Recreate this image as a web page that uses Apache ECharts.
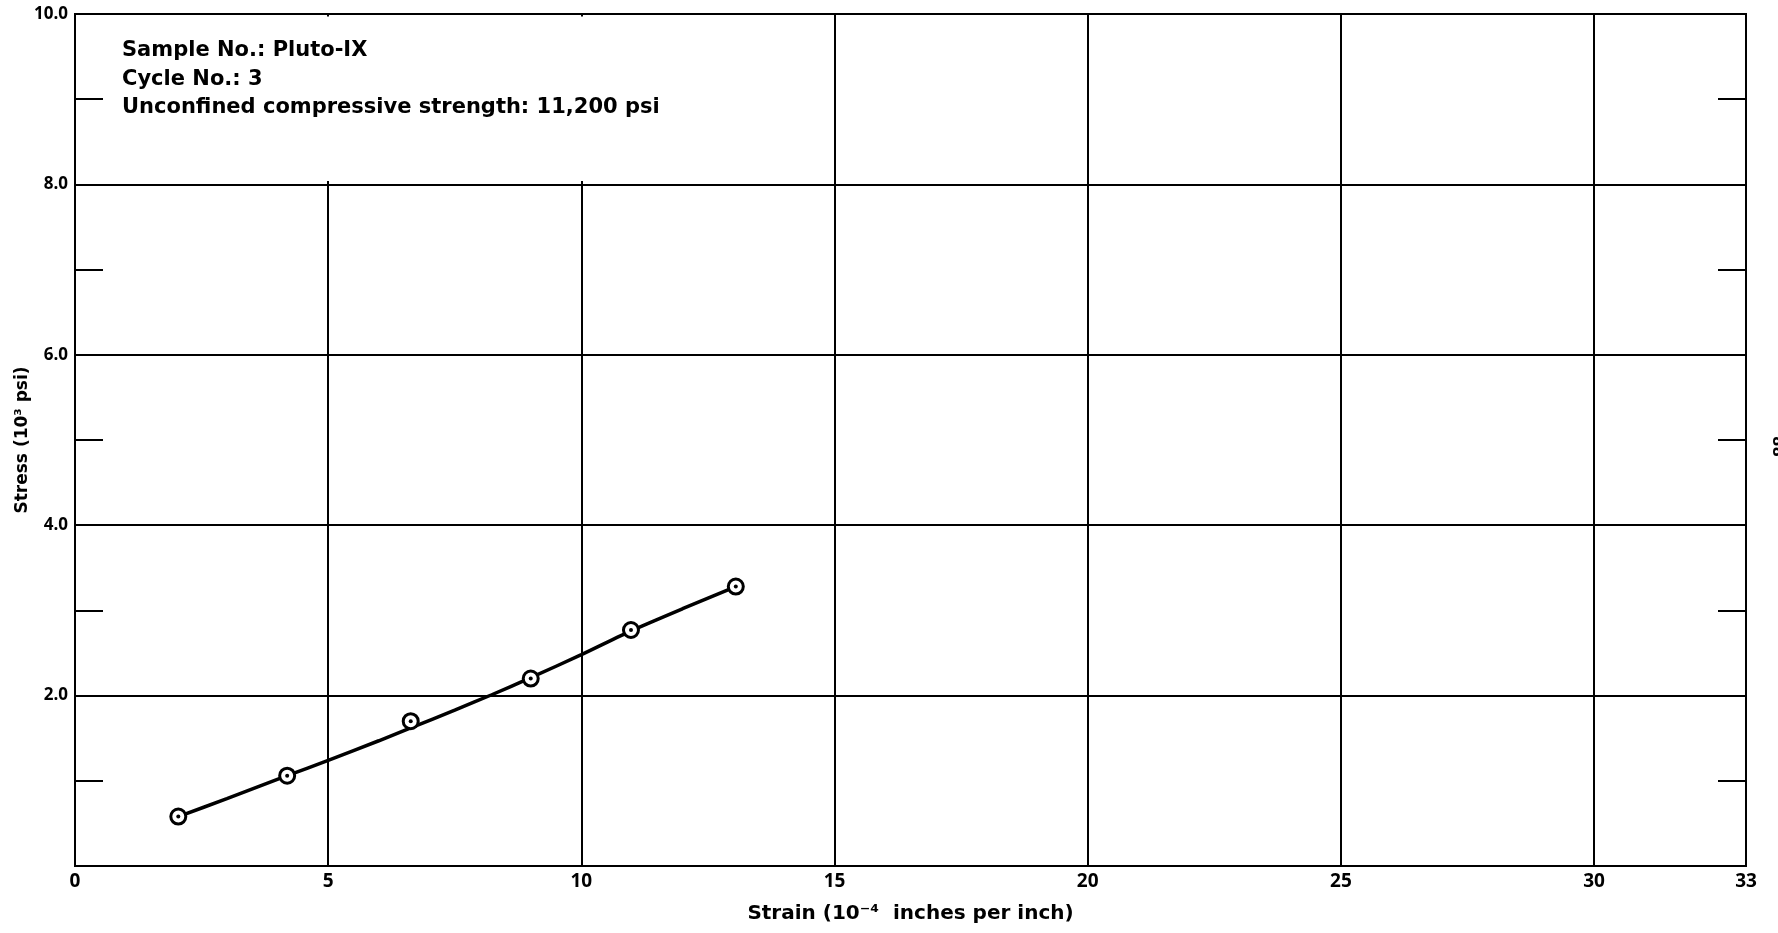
<!DOCTYPE html>
<html>
<head>
<meta charset="utf-8">
<script src="https://cdn.jsdelivr.net/npm/echarts@6/dist/echarts.min.js"></script>
<style>
html,body{margin:0;padding:0;background:#fff;}
#chart{width:1778px;height:933px;}
</style>
</head>
<body>
<div id="chart"></div>
<script>
// ---- data ----
const obsStrain = [2.04, 4.19, 6.63, 9.00, 10.98, 13.05];
const obsStress = [0.58, 1.06, 1.70, 2.20, 2.77, 3.28];
const curveStrain = [2.04, 3.0, 4.19, 5.0, 6.0, 6.63, 7.5, 8.23, 9.0, 10.0, 10.98, 12.0, 13.05];
const curveStress = [0.58, 0.79, 1.06, 1.24, 1.47, 1.62, 1.83, 2.01, 2.21, 2.48, 2.76, 3.02, 3.28];
const xTickLabels = ['0', '5', '10', '15', '20', '25', '30', '33'];
const yTickLabels = ['', '2.0', '4.0', '6.0', '8.0', '10.0'];
const notes = ['Sample No.: Pluto-IX', 'Cycle No.: 3', 'Unconfined compressive strength: 11,200 psi'];
const xName = 'Strain (10\u207B\u2074  inches per inch)';
const yName = 'Stress (10\u00B3 psi)';
const pageNo = '88';

const FONT = '"DejaVu Sans", "Liberation Sans", sans-serif';
const TICKFONT = '"Open Sans", "DejaVu Sans", sans-serif';
const obs = obsStrain.map((x, i) => [x, obsStress[i]]);
const curve = curveStrain.map((x, i) => [x, curveStress[i]]);

const chart = echarts.init(document.getElementById('chart'), null, {renderer: 'canvas'});
const black = '#000';

const yCommon = {
  type: 'value', min: 0, max: 10, interval: 2,
  axisLine: {show: true, lineStyle: {color: black, width: 2}},
  axisTick: {show: true, inside: true, length: 28, lineStyle: {color: black, width: 2}},
  minorTick: {show: true, splitNumber: 2, length: 28, lineStyle: {color: black, width: 2}},
  splitLine: {show: true, lineStyle: {color: black, width: 2}},
  minorSplitLine: {show: false}
};

chart.setOption({
  backgroundColor: '#fff',
  animation: false,
  grid: {left: 75, right: 32, top: 14, bottom: 67, containLabel: false, outerBoundsMode: 'none',
    show: true, borderColor: black, borderWidth: 2, backgroundColor: 'transparent'},
  xAxis: {
    type: 'value', min: 0, max: 33, interval: 5,
    name: xName, nameLocation: 'middle', nameGap: 38, nameMoveOverlap: false,
    nameTextStyle: {fontFamily: FONT, fontSize: 20, fontWeight: 'bold', color: black},
    axisLine: {show: true, lineStyle: {color: black, width: 2}},
    axisTick: {show: false},
    splitLine: {show: true, lineStyle: {color: black, width: 2}},
    axisLabel: {
      fontFamily: TICKFONT, fontSize: 19, fontWeight: 'bold', color: black, margin: 6,
      showMaxLabel: true, showMinLabel: true,
      formatter: v => { const s = String(Math.round(v)); return xTickLabels.indexOf(s) >= 0 ? s : ''; }
    }
  },
  yAxis: [
    Object.assign({}, yCommon, {
      position: 'left',
      name: yName, nameLocation: 'middle', nameGap: 44, nameMoveOverlap: false,
      nameTextStyle: {fontFamily: FONT, fontSize: 17, fontWeight: 'bold', color: black},
      axisLabel: {fontFamily: TICKFONT, fontSize: 17, fontWeight: 'bold', color: black, margin: 7,
        formatter: v => yTickLabels[Math.round(v / 2)] || ''}
    }),
    Object.assign({}, yCommon, {
      position: 'right',
      splitLine: {show: false},
      axisLabel: {show: false}
    })
  ],
  graphic: [
    ...notes.map((t, i) => ({
      type: 'text', x: 122, y: 51 + i * 28.5, z: 10,
      style: {text: t, font: 'bold 21px ' + FONT, fill: black, textVerticalAlign: 'middle'}
    })),
    {type: 'text', x: 1784, y: 436, rotation: -Math.PI / 2, z: 10,
      style: {text: pageNo, font: 'bold 15px ' + FONT, fill: black}}
  ],
  series: [
    {
      name: 'curve', type: 'line', data: curve, smooth: 0.2, showSymbol: false,
      lineStyle: {color: black, width: 3.5}, z: 3,
      markArea: {silent: true, itemStyle: {color: '#fff'},
        data: [[{coord: [0.8, 8.04]}, {coord: [14.9, 9.97]}]]}
    },
    {
      name: 'observed', type: 'scatter', data: obs, symbol: 'circle', symbolSize: 15,
      itemStyle: {color: '#fff', borderColor: black, borderWidth: 3, opacity: 1}, z: 4
    },
    {
      name: 'centers', type: 'scatter', data: obs, symbol: 'circle', symbolSize: 4,
      itemStyle: {color: black, opacity: 1}, z: 5
    }
  ]
});
</script>
</body>
</html>
